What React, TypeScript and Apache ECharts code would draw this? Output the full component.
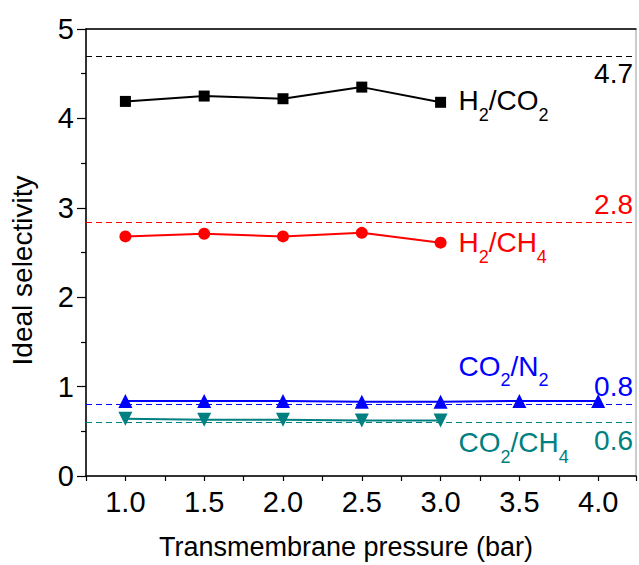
import React, { useEffect, useRef } from "react";
import * as echarts from "echarts";

const pressures = [1.0, 1.5, 2.0, 2.5, 3.0, 3.5, 4.0];
const h2co2 = [4.19, 4.25, 4.22, 4.35, 4.18];
const h2ch4 = [2.68, 2.71, 2.68, 2.72, 2.61];
const co2n2 = [0.84, 0.84, 0.84, 0.83, 0.83, 0.84, 0.84];
const co2ch4 = [0.64, 0.63, 0.63, 0.62, 0.62];
const refValues = [4.7, 2.84, 0.8, 0.6];
const refLabels = ["4.7", "2.8", "0.8", "0.6"];
const seriesNames = ["H2/CO2", "H2/CH4", "CO2/N2", "CO2/CH4"];
const richNames = [
  "{m|H}{s|2}{m|/CO}{s|2}",
  "{m|H}{s|2}{m|/CH}{s|4}",
  "{m|CO}{s|2}{m|/N}{s|2}",
  "{m|CO}{s|2}{m|/CH}{s|4}",
];
const labelAnchors: [number, number][] = [
  [3.11, 4.2],
  [3.11, 2.61],
  [3.11, 1.23],
  [3.11, 0.37],
];

const FONT = "'Liberation Sans', Arial, sans-serif";

export default function App() {
  const ref = useRef<HTMLDivElement>(null);
  useEffect(() => {
    if (!ref.current) return;
    const chart = echarts.init(ref.current, undefined, { renderer: "svg" });
    const colors = ["#000000", "#ff0000", "#0000ff", "#008080"];
    const symbols = ["rect", "circle", "triangle", "triangle"];
    const sizes = [11, 12, 14, 14];
    const rotates = [0, 0, 0, 180];
    const seriesData = [h2co2, h2ch4, co2n2, co2ch4];
    const refPos = ["insideEndBottom", "insideEndTop", "insideEndTop", "insideEndBottom"];

    const series = seriesData.map((vals, i) => ({
      name: seriesNames[i],
      type: "line",
      data: vals.map((v, j) => [pressures[j], v]),
      symbol: symbols[i],
      symbolSize: sizes[i],
      symbolRotate: rotates[i],
      lineStyle: { color: colors[i], width: 2 },
      itemStyle: { color: colors[i] },
      z: 5,
      markLine: {
        silent: true,
        symbol: "none",
        animation: false,
        lineStyle: { color: colors[i], type: [6, 4], width: 1.2 },
        label: {
          show: true,
          position: refPos[i],
          formatter: refLabels[i],
          color: colors[i],
          fontSize: 28,
          fontFamily: FONT,
          distance: [3, 4],
        },
        data: [{ yAxis: refValues[i] }],
      },
      markPoint: {
        silent: true,
        symbol: "circle",
        symbolSize: 1,
        itemStyle: { color: "rgba(0,0,0,0)" },
        animation: false,
        label: {
          show: true,
          position: "right",
          distance: 0,
          formatter: richNames[i],
          color: colors[i],
          rich: {
            m: { fontSize: 28, fontFamily: FONT, color: colors[i] },
            s: { fontSize: 18, fontFamily: FONT, color: colors[i], padding: [28, 0, 0, 0] },
          },
        },
        data: [{ coord: labelAnchors[i] }],
      },
    }));

    chart.setOption({
      animation: false,
      grid: {
        left: 83,
        right: 1,
        top: 29,
        bottom: 88,
        show: true,
        borderColor: "#999999",
        borderWidth: 1,
      },
      xAxis: [
        {
          type: "value",
          min: 0.75,
          max: 4.24,
          interval: 0.25,
          name: "Transmembrane pressure (bar)",
          nameLocation: "middle",
          nameGap: 57,
          nameTextStyle: { fontSize: 27, fontFamily: FONT, color: "#000", padding: [0, 30, 0, 0] },
          axisLine: { lineStyle: { color: "#000", width: 1.5 } },
          axisTick: { show: true, length: 5, lineStyle: { color: "#000", width: 1.2 } },
          axisLabel: {
            fontSize: 29,
            fontFamily: FONT,
            color: "#000",
            margin: 11,
            formatter: (v: number) =>
              v >= 1 && v <= 4.001 && Math.abs(v * 2 - Math.round(v * 2)) < 1e-6 ? v.toFixed(1) : "",
          },
          splitLine: { show: false },
        },
        {
          type: "value",
          position: "top",
          min: 0.75,
          max: 4.24,
          axisLine: { show: true, lineStyle: { color: "#000", width: 1.5 } },
          axisTick: { show: false },
          axisLabel: { show: false },
          splitLine: { show: false },
        },
      ],
      yAxis: {
        type: "value",
        min: 0,
        max: 5,
        interval: 1,
        name: "Ideal selectivity",
        nameLocation: "middle",
        nameGap: 50,
        nameTextStyle: { fontSize: 28, fontFamily: FONT, color: "#000", padding: [0, 36, 0, 0] },
        axisLine: { show: true, lineStyle: { color: "#000", width: 1.5 } },
        axisTick: { show: true, length: 9, lineStyle: { color: "#000", width: 1.2 } },
        minorTick: { show: true, splitNumber: 2, length: 5, lineStyle: { color: "#000", width: 1.2 } },
        axisLabel: { fontSize: 29, fontFamily: FONT, color: "#000", margin: 12 },
        splitLine: { show: false },
      },
      series,
    });
    return () => chart.dispose();
  }, []);
  return (
    <div
      ref={ref}
      style={{ position: "fixed", left: 0, top: 0, width: 639, height: 565, background: "#fff" }}
    />
  );
}
